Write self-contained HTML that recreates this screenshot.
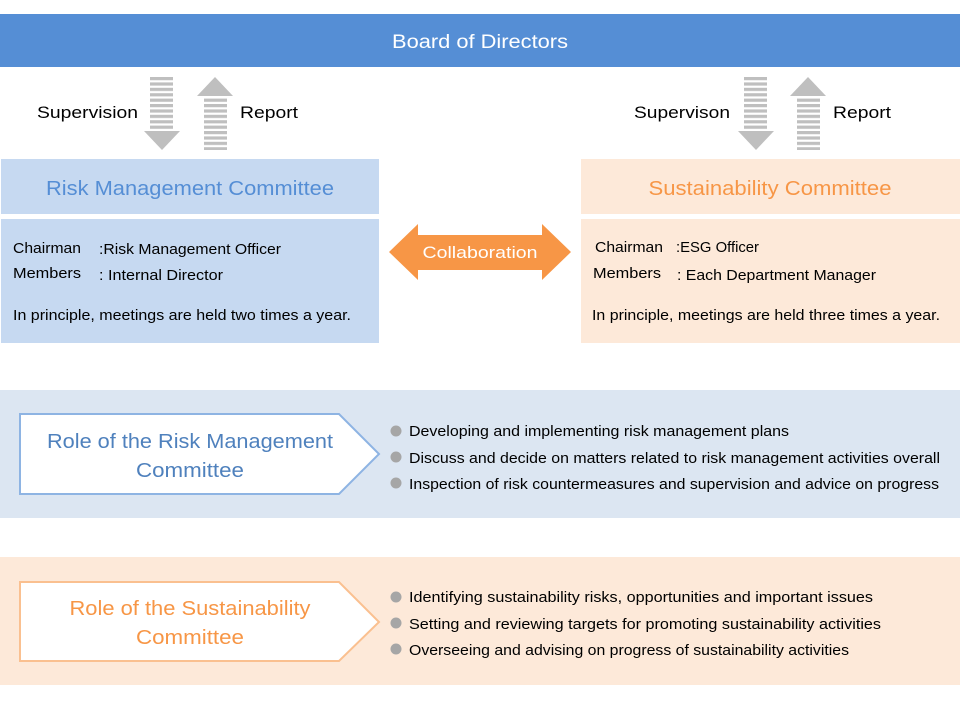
<!DOCTYPE html>
<html><head><meta charset="utf-8"><style>
html,body{margin:0;padding:0;background:#fff;}
svg{display:block;}
text{font-family:"Liberation Sans",sans-serif;}
</style></head><body>
<svg width="960" height="720" viewBox="0 0 960 720" xmlns="http://www.w3.org/2000/svg">
<defs>
<pattern id="st" x="0" y="77" width="10" height="5.4" patternUnits="userSpaceOnUse">
<rect x="0" y="0" width="10" height="3.2" fill="#BFBFBF"/>
</pattern>
</defs>
<rect x="0" y="14" width="960" height="53" fill="#558ED5"/>
<text x="480" y="48" font-size="19" fill="#fff" text-anchor="middle" textLength="176" lengthAdjust="spacingAndGlyphs">Board of Directors</text>

<rect x="150" y="77" width="23" height="53" fill="url(#st)"/>
<polygon points="144,131 180,131 162,150" fill="#BFBFBF"/>
<polygon points="215,77 233,96 197,96" fill="#BFBFBF"/>
<rect x="204" y="97" width="23" height="53" fill="url(#st)"/>
<text x="37" y="118" font-size="17" fill="#000" textLength="101" lengthAdjust="spacingAndGlyphs">Supervision</text>
<text x="240" y="118" font-size="17" fill="#000" textLength="58" lengthAdjust="spacingAndGlyphs">Report</text>

<rect x="744" y="77" width="23" height="53" fill="url(#st)"/>
<polygon points="738,131 774,131 756,150" fill="#BFBFBF"/>
<polygon points="808,77 826,96 790,96" fill="#BFBFBF"/>
<rect x="797" y="97" width="23" height="53" fill="url(#st)"/>
<text x="634" y="118" font-size="17" fill="#000" textLength="96" lengthAdjust="spacingAndGlyphs">Supervison</text>
<text x="833" y="118" font-size="17" fill="#000" textLength="58" lengthAdjust="spacingAndGlyphs">Report</text>

<rect x="1" y="159" width="378" height="55" fill="#C6D9F1"/>
<text x="190" y="195" font-size="20" fill="#558ED5" text-anchor="middle" textLength="288" lengthAdjust="spacingAndGlyphs">Risk Management Committee</text>
<rect x="1" y="219" width="378" height="124" fill="#C6D9F1"/>
<g font-size="15" fill="#000">
<text x="13" y="253" textLength="68" lengthAdjust="spacingAndGlyphs">Chairman</text>
<text x="99" y="254" textLength="182" lengthAdjust="spacingAndGlyphs">:Risk Management Officer</text>
<text x="13" y="278" textLength="68" lengthAdjust="spacingAndGlyphs">Members</text>
<text x="99" y="280" textLength="124" lengthAdjust="spacingAndGlyphs">: Internal Director</text>
<text x="13" y="320" textLength="338" lengthAdjust="spacingAndGlyphs">In principle, meetings are held two times a year.</text>
</g>

<rect x="581" y="159" width="379" height="55" fill="#FDE9D9"/>
<text x="770" y="195" font-size="20" fill="#F79646" text-anchor="middle" textLength="243" lengthAdjust="spacingAndGlyphs">Sustainability Committee</text>
<rect x="581" y="219" width="379" height="124" fill="#FDE9D9"/>
<g font-size="15" fill="#000">
<text x="595" y="252" textLength="68" lengthAdjust="spacingAndGlyphs">Chairman</text>
<text x="676" y="252" textLength="83" lengthAdjust="spacingAndGlyphs">:ESG Officer</text>
<text x="593" y="278" textLength="68" lengthAdjust="spacingAndGlyphs">Members</text>
<text x="677" y="280" textLength="199" lengthAdjust="spacingAndGlyphs">: Each Department Manager</text>
<text x="592" y="320" textLength="348" lengthAdjust="spacingAndGlyphs">In principle, meetings are held three times a year.</text>
</g>

<polygon points="389,252 418,224 418,235 542,235 542,224 571,252 542,280 542,270 418,270 418,280" fill="#F79646"/>
<text x="480" y="258" font-size="17" fill="#fff" text-anchor="middle" textLength="115" lengthAdjust="spacingAndGlyphs">Collaboration</text>

<rect x="0" y="390" width="960" height="128" fill="#DCE6F2"/>
<polygon points="20,414 339,414 379,454 339,494 20,494" fill="#fff" stroke="#8EB4E3" stroke-width="2"/>
<text x="190" y="448" font-size="20" fill="#4F81BD" text-anchor="middle" textLength="286" lengthAdjust="spacingAndGlyphs">Role of the Risk Management</text>
<text x="190" y="477" font-size="20" fill="#4F81BD" text-anchor="middle" textLength="108" lengthAdjust="spacingAndGlyphs">Committee</text>
<g fill="#A6A6A6"><circle cx="396" cy="431" r="5.5"/><circle cx="396" cy="457" r="5.5"/><circle cx="396" cy="483" r="5.5"/></g>
<g font-size="15" fill="#000">
<text x="409" y="436" textLength="380" lengthAdjust="spacingAndGlyphs">Developing and implementing risk management plans</text>
<text x="409" y="463" textLength="531" lengthAdjust="spacingAndGlyphs">Discuss and decide on matters related to risk management activities overall</text>
<text x="409" y="489" textLength="530" lengthAdjust="spacingAndGlyphs">Inspection of risk countermeasures and supervision and advice on progress</text>
</g>

<rect x="0" y="557" width="960" height="128" fill="#FDE9D9"/>
<polygon points="20,582 339,582 379,622 339,661 20,661" fill="#fff" stroke="#FAC090" stroke-width="2"/>
<text x="190" y="615" font-size="20" fill="#F79646" text-anchor="middle" textLength="241" lengthAdjust="spacingAndGlyphs">Role of the Sustainability</text>
<text x="190" y="644" font-size="20" fill="#F79646" text-anchor="middle" textLength="108" lengthAdjust="spacingAndGlyphs">Committee</text>
<g fill="#A6A6A6"><circle cx="396" cy="597" r="5.5"/><circle cx="396" cy="623" r="5.5"/><circle cx="396" cy="649" r="5.5"/></g>
<g font-size="15" fill="#000">
<text x="409" y="602" textLength="464" lengthAdjust="spacingAndGlyphs">Identifying sustainability risks, opportunities and important issues</text>
<text x="409" y="629" textLength="472" lengthAdjust="spacingAndGlyphs">Setting and reviewing targets for promoting sustainability activities</text>
<text x="409" y="655" textLength="440" lengthAdjust="spacingAndGlyphs">Overseeing and advising on progress of sustainability activities</text>
</g>
</svg>
</body></html>
